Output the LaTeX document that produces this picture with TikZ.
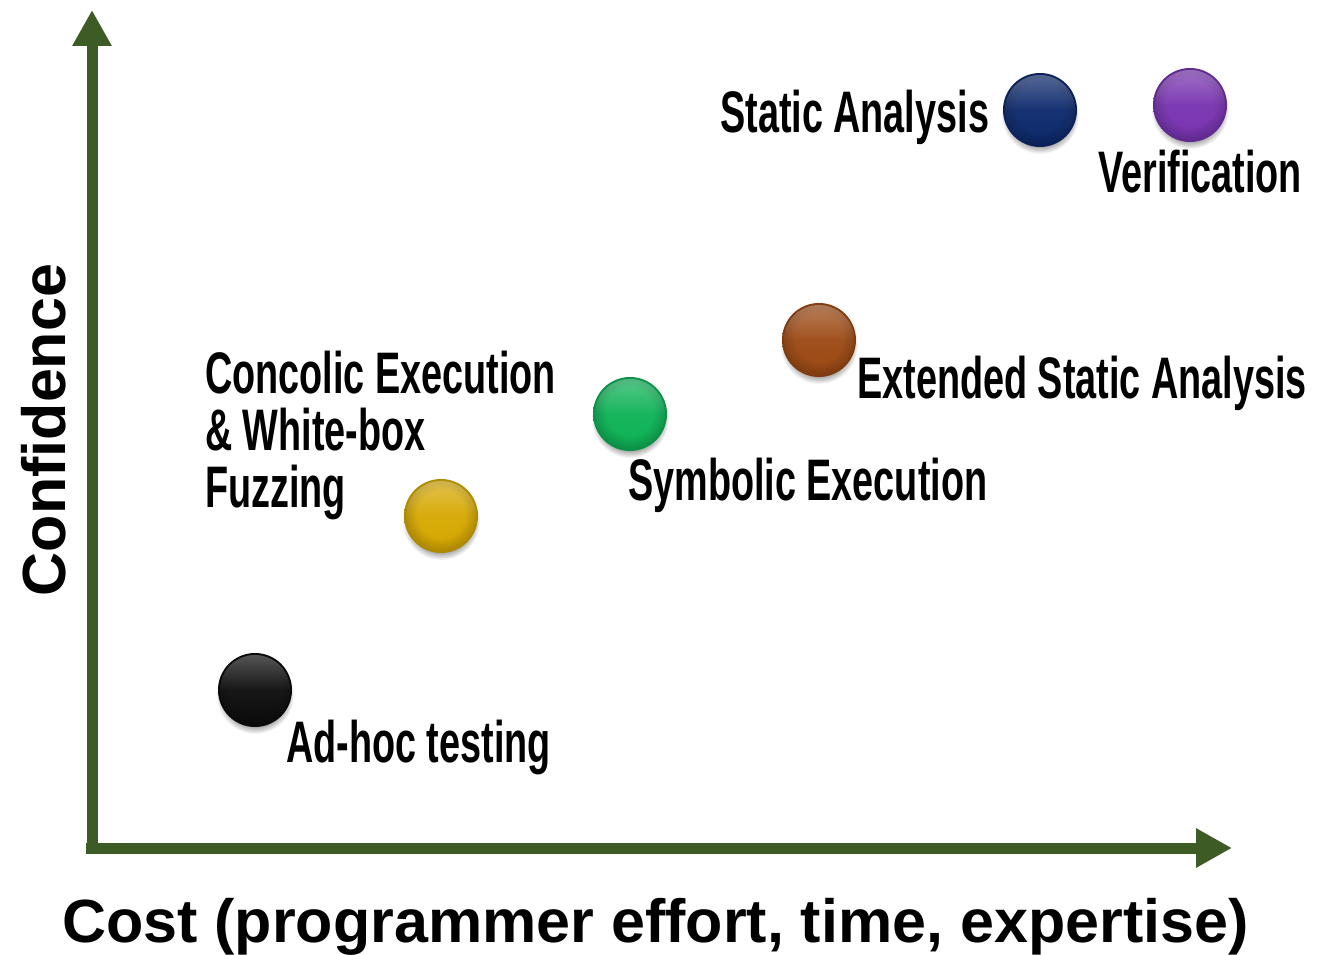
\documentclass[tikz,border=0pt]{standalone}
\usepackage{fontspec}
\setmainfont{Liberation Sans}
\newfontfamily\lblfont[FakeStretch=0.645]{Liberation Sans}
\usetikzlibrary{arrows.meta, fadings}

\definecolor{axisgreen}{HTML}{3D5C25}
\definecolor{orbblack}{HTML}{0C0C0C}
\definecolor{orbyellow}{HTML}{D6A800}
\definecolor{orbgreen}{HTML}{0DB256}
\definecolor{orbbrown}{HTML}{9C4913}
\definecolor{orbnavy}{HTML}{0D296C}
\definecolor{orbpurple}{HTML}{7833B0}
\colorlet{sph}{black}

% sphere body: flat colour with a slightly darker rim
\pgfdeclareradialshading[sph]{sphere}{\pgfpoint{0bp}{2bp}}{%
  color(0bp)=(sph); color(16bp)=(sph); color(24bp)=(sph!82!black);
  color(50bp)=(sph!70!black)}
% soft drop shadow
\pgfdeclareradialshading{halo}{\pgfpointorigin}{%
  color(0bp)=(black!40); color(20bp)=(black!35); color(25bp)=(white); color(50bp)=(white)}
% light band that fades out towards the middle of a sphere
\tikzfading[name=topsheen, top color=transparent!0, bottom color=transparent!100,
  middle color=transparent!85]

\tikzset{
  axis/.style={draw=axisgreen, line width=11pt,
    -{Triangle[length=36pt, width=37pt]}},
  orb/.style={circle, minimum size=74pt, inner sep=0pt,
    /utils/exec={\colorlet{sph}{#1}}, shading=sphere},
  orbshadow/.style={circle, minimum size=78pt, inner sep=0pt, shading=halo},
  sheen/.style={fill=white, fill opacity=0.3, path fading=topsheen},
  lbl/.style={font=\lblfont\bfseries\fontsize{58.6}{57}\selectfont,
    inner sep=0pt, anchor=base west, align=left},
  title/.style={font=\bfseries\fontsize{61}{61}\selectfont, inner sep=0pt}
}

\begin{document}
\begin{tikzpicture}[x=1pt, y=-1pt]
  \useasboundingbox (0,0) rectangle (1320,955);

  % axes
  \coordinate (cornerv) at (92,854);
  \coordinate (cornerh) at (86,848);
  \coordinate (ytip) at (92,10);
  \coordinate (xtip) at (1232,848);
  \draw[axis] (cornerv) -- (ytip);
  \draw[axis] (cornerh) -- (xtip);

  % axis titles
  \node[title, rotate=90, anchor=base] (ytitle) at (65,430) {Confidence};
  \node[title, anchor=base west] (xtitle) at (62,942)
    {Cost (programmer effort, time, expertise)};

  % shadows
  \foreach \x/\y in {255/690, 441/516, 630/414, 819/340, 1040/110, 1190/105}
    \node[orbshadow] at (\x,\y+5) {};

  % spheres
  \node[orb=orbblack]  (adhoc)    at (255,690) {};
  \node[orb=orbyellow] (concolic) at (441,516) {};
  \node[orb=orbgreen]  (symbolic) at (630,414) {};
  \node[orb=orbbrown]  (extended) at (819,340) {};
  \node[orb=orbnavy]   (static)   at (1040,110) {};
  \node[orb=orbpurple] (verif)    at (1190,105) {};

  % light sheen on the upper part of each sphere
  \foreach \n in {adhoc, concolic, symbolic, extended, static, verif}
    \fill[sheen] (\n.center) circle[radius=35pt];

  % labels (multi-line label is anchored at its last baseline)
  \node[lbl] (adhoclbl)    at (286,762) {Ad-hoc testing};
  \node[lbl] (concoliclbl) at (205,507) {Concolic Execution\\\& White-box\\Fuzzing};
  \node[lbl] (symboliclbl) at (628,500) {Symbolic Execution};
  \node[lbl] (extendedlbl) at (857,398) {Extended Static Analysis};
  \node[lbl] (staticlbl)   at (720,132) {Static Analysis};
  \node[lbl] (veriflbl)    at (1098,192) {Verification};
\end{tikzpicture}
\end{document}
